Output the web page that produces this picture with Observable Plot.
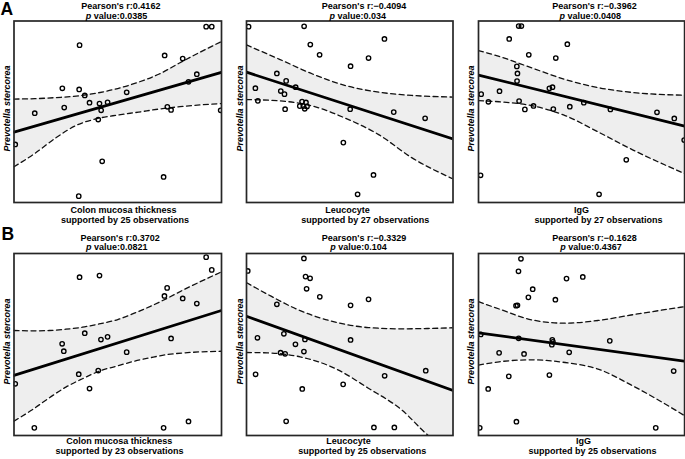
<!DOCTYPE html>
<html>
<head>
<meta charset="utf-8">
<script src="https://cdn.jsdelivr.net/npm/d3@7"></script>
<script src="https://cdn.jsdelivr.net/npm/@observablehq/plot@0.6"></script>
<style>
html, body { margin: 0; padding: 0; background: #fff; }
#chart { position: relative; width: 685px; height: 459px; overflow: hidden; }
#chart svg { position: absolute; }
</style>
</head>
<body>
<div id="chart"></div>
<script>
// ---------- DATA (arbitrary 0-100 units, no ticks in the original) ----------
const panelLetters = ["A", "", "", "B", "", ""];
const xLabels = ["Colon mucosa thickness", "Leucocyte", "IgG", "Colon mucosa thickness", "Leucocyte", "IgG"];
const yLabel = "Prevotella stercorea";
const pearsonR = ["0.4162", "\u22120.4094", "\u22120.3962", "0.3702", "\u22120.3329", "\u22120.1628"];
const pValues = ["0.0385", "0.034", "0.0408", "0.0821", "0.104", "0.4367"];
const observations = [25, 27, 27, 23, 25, 25];

const a1X = [0.6, 10.0, 23.3, 24.2, 31.6, 31.4, 34.1, 36.4, 41.2, 42.0, 40.6, 45.1, 42.5, 31.2, 54.3, 72.6, 73.9, 75.7, 72.1, 81.3, 84.1, 88.1, 92.6, 95.3, 99.6];
const a1Y = [32.0, 49.2, 62.9, 52.3, 86.7, 62.3, 59.0, 55.0, 54.5, 50.8, 45.7, 55.2, 22.7, 3.5, 60.7, 81.0, 52.7, 51.0, 14.1, 79.3, 66.5, 70.7, 96.9, 96.9, 50.8];
const a2X = [1.0, 27.9, 30.9, 35.4, 66.8, 59.1, 50.4, 14.7, 19.2, 23.8, 4.3, 16.6, 18.4, 5.5, 26.9, 28.8, 27.5, 29.3, 28.2, 18.7, 50.2, 71.3, 86.5, 46.9, 61.5, 53.8, 25.8];
const a2Y = [96.9, 97.1, 87.0, 81.4, 90.1, 79.6, 75.1, 71.1, 67.0, 63.5, 63.0, 61.4, 59.7, 56.0, 55.6, 55.1, 53.1, 52.9, 51.6, 51.4, 51.4, 49.8, 46.4, 33.0, 15.2, 4.5, 53.1];
const a3X = [19.5, 20.8, 14.9, 43.1, 24.4, 37.5, 18.6, 18.9, 18.7, 10.2, 1.3, 34.4, 35.9, 4.8, 19.7, 22.5, 26.7, 36.3, 44.3, 51.1, 64.0, 86.6, 95.0, 71.7, 1.0, 58.5, 99.8];
const a3Y = [97.2, 97.2, 90.1, 87.2, 81.4, 79.6, 75.0, 71.1, 66.9, 61.3, 59.7, 62.9, 63.5, 55.5, 55.9, 51.3, 53.2, 51.5, 52.8, 55.0, 51.3, 49.7, 46.3, 23.5, 15.0, 4.5, 34.4];
const b1X = [0.6, 9.8, 31.6, 41.2, 23.2, 24.0, 34.1, 41.9, 45.1, 31.2, 40.6, 36.4, 54.3, 72.5, 73.8, 75.7, 72.1, 84.1, 81.3, 88.1, 92.6, 95.3];
const b1Y = [28.4, 4.2, 87.0, 87.9, 50.4, 46.3, 56.2, 52.7, 54.2, 33.7, 35.7, 25.8, 45.8, 76.7, 81.1, 53.3, 4.2, 7.7, 75.3, 72.5, 98.0, 91.0];
const b2X = [0.6, 27.8, 28.6, 30.8, 29.1, 35.5, 14.7, 50.4, 59.1, 5.3, 18.1, 23.7, 28.3, 50.4, 16.5, 18.7, 27.8, 4.4, 27.0, 46.8, 66.9, 86.8, 19.2, 61.7, 71.6];
const b2Y = [90.4, 97.3, 87.3, 86.4, 80.6, 76.2, 72.1, 71.5, 74.8, 53.7, 55.9, 50.1, 52.8, 52.5, 45.5, 44.9, 46.1, 33.6, 25.6, 28.1, 32.8, 35.6, 7.8, 4.4, 4.4];
const b3X = [20.6, 19.4, 42.7, 50.6, 26.3, 24.2, 37.3, 18.2, 18.9, 1.1, 19.5, 35.8, 35.6, 63.7, 10.0, 22.1, 44.0, 14.7, 34.4, 4.7, 94.7, 18.4, 0.6, 86.0, 36.1];
const b3Y = [97.1, 90.2, 86.2, 87.1, 80.4, 75.9, 74.6, 71.3, 71.5, 55.5, 53.4, 52.6, 49.9, 52.0, 45.4, 44.8, 45.7, 32.5, 33.2, 25.6, 35.4, 7.6, 4.2, 4.2, 51.5];

// regression line: value at the left and right end of the x range
const fitX = [0, 100];
const fitStart = [38.8, 71.8, 70.2, 33.0, 65.5, 56.4];
const fitEnd = [71.7, 35.0, 42.1, 68.7, 24.7, 40.8];

// confidence band (dashed bounds)
const a1BandX = [0, 10, 20, 30, 40, 50, 60, 70, 80, 90, 100];
const a1Upper = [57.0, 57.2, 57.8, 58.6, 60.3, 62.8, 66.3, 70.8, 77.0, 83.0, 88.7];
const a1Lower = [19.7, 27.0, 35.5, 42.5, 46.2, 48.2, 49.8, 51.5, 52.8, 53.8, 54.5];
const a2BandX = [0, 16, 32, 48, 64, 80, 100];
const a2Upper = [86.8, 78.9, 70.8, 64.4, 60.8, 59.0, 58.1];
const a2Lower = [56.7, 56.0, 53.1, 46.4, 37.4, 24.7, 13.0];
const a3BandX = [0, 10, 26, 42, 58, 75, 100];
const a3Upper = [83.7, 80.5, 74.1, 67.8, 63.3, 60.6, 59.1];
const a3Lower = [56.1, 55.5, 53.3, 47.9, 38.9, 28.9, 15.9];
const b1BandX = [0, 9, 17, 25, 33, 41, 50, 58, 66, 74, 82, 100];
const b1Upper = [57.7, 57.5, 57.7, 58.4, 59.5, 61.3, 63.7, 67.2, 71.1, 75.5, 80.2, 89.9];
const b1Lower = [7.9, 14.3, 20.7, 26.6, 31.2, 35.3, 38.3, 40.8, 42.8, 44.5, 45.4, 46.3];
const b2BandX = [0, 10, 26, 43, 59, 75, 88, 100];
const b2Upper = [84.0, 77.7, 68.6, 62.3, 59.3, 58.6, 58.8, 59.2];
const b2Lower = [45.6, 45.4, 43.2, 36.8, 26.0, 14.2, 0, -10];
const b3BandX = [0, 10, 26, 42, 58, 74, 100];
const b3Upper = [73.5, 69.5, 63.5, 61.7, 63.2, 66.2, 70.8];
const b3Lower = [38.7, 40.5, 41.6, 40.1, 36.5, 27.8, 10.9];

const pointsX = [a1X, a2X, a3X, b1X, b2X, b3X];
const pointsY = [a1Y, a2Y, a3Y, b1Y, b2Y, b3Y];
const bandX = [a1BandX, a2BandX, a3BandX, b1BandX, b2BandX, b3BandX];
const bandUpper = [a1Upper, a2Upper, a3Upper, b1Upper, b2Upper, b3Upper];
const bandLower = [a1Lower, a2Lower, a3Lower, b1Lower, b2Lower, b3Lower];

// ---------- LAYOUT (page pixels) ----------
const colGeom = [
  {left: 0, width: 232, ml: 13.5, mr: 11},
  {left: 232, width: 232, ml: 14, mr: 11.5},
  {left: 464, width: 221, ml: 14, mr: 0.9}
];
const rowGeom = [
  {top: 0, height: 228, mt: 20.5, mb: 26, t1: 8.3, t2: 18, x1: 212, x2: 222.5, yc: 108, letterY: 14},
  {top: 228, height: 231, mt: 25, mb: 24, t1: 240, t2: 249.5, x1: 443.3, x2: 453.3, yc: 341, letterY: 239.3}
];
const title1Left = [80.7, 321.3, 551.7, 80, 321.3, 551.7];
const title2Left = [85.3, 329, 559, 85.5, 329.7, 559.7];
const xlab1Center = [123, 347, 581, 118.7, 348, 583];
const xlab2Left = [60.5, 300.7, 534, 55, 297.7, 528];
const ylabX = [7, 240, 471, 7, 240, 471];
const letterX = [0, 0, 0, 1, 0, 0];

const FONT = "'Liberation Sans', Arial, Helvetica, sans-serif";
const chart = document.getElementById("chart");

for (let i = 0; i < 6; i++) {
  const col = colGeom[i % 3], row = rowGeom[Math.floor(i / 3)];
  const pts = pointsX[i].map((x, j) => ({x, y: pointsY[i][j]}));
  const band = bandX[i].map((x, j) => ({x, upper: bandUpper[i][j], lower: bandLower[i][j]}));
  const fit = [{x: fitX[0], y: fitStart[i]}, {x: fitX[1], y: fitEnd[i]}];
  const fl = col.left + col.ml;
  const fr = col.left + col.width - col.mr;
  const ft = row.top + row.mt;
  const fb = row.top + row.height - row.mb;
  const fcx = (fl + fr) / 2, fcy = (ft + fb) / 2;
  const txt = (s, o) => Plot.text([s], {text: d => d, fontWeight: "bold", fontSize: 9, fill: "#000", ...o});

  const marks = [
    Plot.areaY(band, {x: "x", y1: "lower", y2: "upper", fill: "#eeeeee", curve: "monotone-x", clip: true}),
    Plot.line(band, {x: "x", y: "upper", stroke: "#111", strokeWidth: 1.3, strokeDasharray: "5,3.5", curve: "monotone-x", clip: true}),
    Plot.line(band, {x: "x", y: "lower", stroke: "#111", strokeWidth: 1.3, strokeDasharray: "5,3.5", curve: "monotone-x", clip: true}),
    Plot.line(fit, {x: "x", y: "y", stroke: "#000", strokeWidth: 2.8, clip: true}),
    Plot.dot(pts, {x: "x", y: "y", r: 2.2, stroke: "#000", strokeWidth: 1.35, fill: "none", clip: true}),
    Plot.frame({stroke: "#262626", strokeWidth: 1.7}),
    txt("Pearson's r:" + pearsonR[i], {frameAnchor: "top-left", textAnchor: "start", lineAnchor: "bottom", dx: title1Left[i] - fl, dy: row.t1 - ft}),
    txt("p", {frameAnchor: "top-left", textAnchor: "start", lineAnchor: "bottom", fontStyle: "italic", dx: title2Left[i] - fl, dy: row.t2 - ft}),
    txt("value:" + pValues[i], {frameAnchor: "top-left", textAnchor: "start", lineAnchor: "bottom", dx: title2Left[i] + 8 - fl, dy: row.t2 - ft}),
    txt(xLabels[i], {frameAnchor: "bottom", textAnchor: "middle", lineAnchor: "bottom", dx: xlab1Center[i] - fcx, dy: row.x1 - fb}),
    txt("supported by " + observations[i] + " observations", {frameAnchor: "bottom-left", textAnchor: "start", lineAnchor: "bottom", dx: xlab2Left[i] - fl, dy: row.x2 - fb}),
    txt(yLabel, {frameAnchor: "left", textAnchor: "middle", lineAnchor: "middle", rotate: -90, fontStyle: "italic", dx: ylabX[i] - fl, dy: row.yc - fcy})
  ];
  if (panelLetters[i]) {
    marks.push(Plot.text([panelLetters[i]], {text: d => d, frameAnchor: "top-left", textAnchor: "start", lineAnchor: "bottom",
      fontWeight: "bold", fontSize: 17.5, fill: "#000", dx: letterX[i] - fl, dy: row.letterY - ft}));
  }

  const svg = Plot.plot({
    width: col.width,
    height: row.height,
    marginLeft: col.ml, marginRight: col.mr, marginTop: row.mt, marginBottom: row.mb,
    x: {domain: [0, 100], axis: null},
    y: {domain: [0, 100], axis: null},
    style: {fontFamily: FONT, fontSize: "9px", background: "transparent", overflow: "visible"},
    marks
  });
  svg.style.left = col.left + "px";
  svg.style.top = row.top + "px";
  chart.appendChild(svg);
}
</script>
</body>
</html>
